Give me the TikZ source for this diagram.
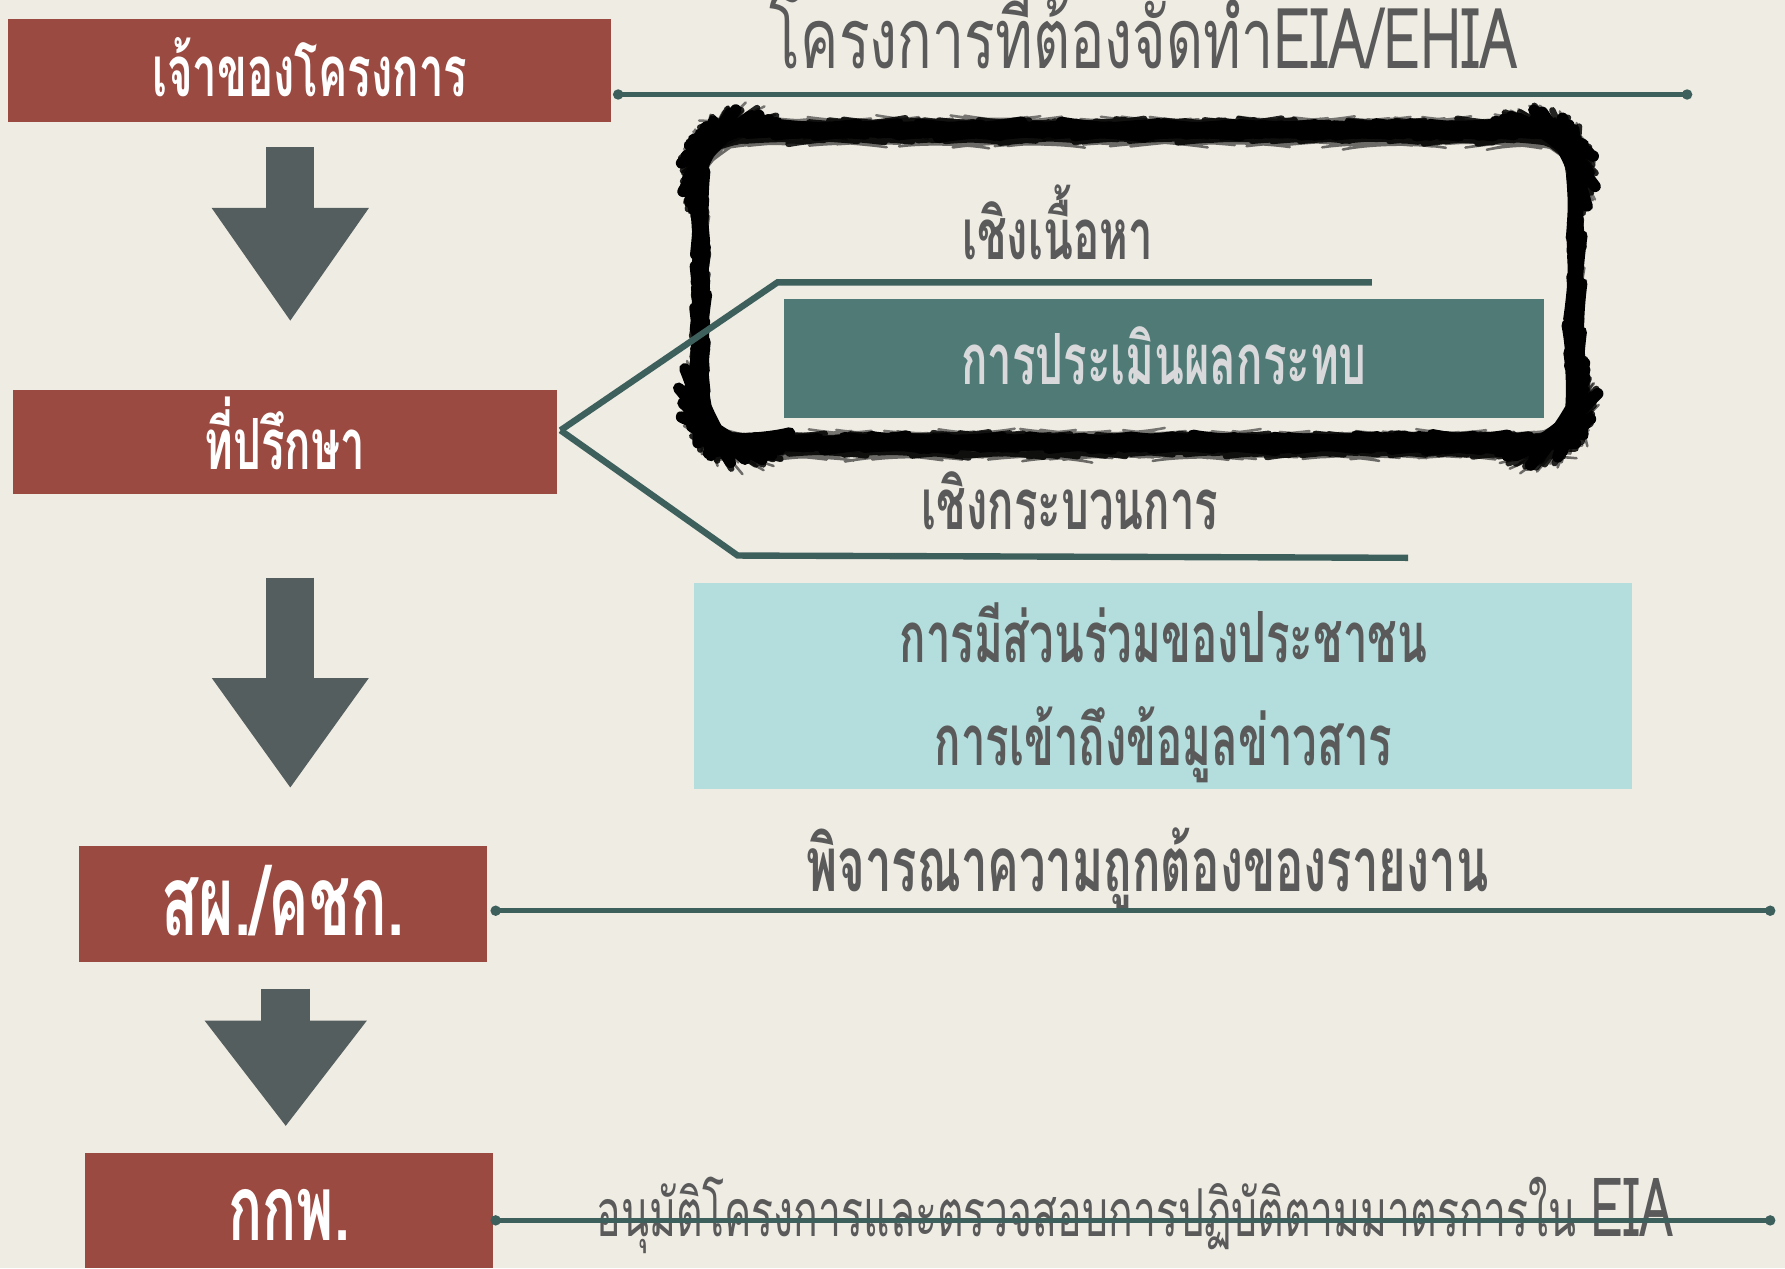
\documentclass[tikz,border=0pt]{standalone}
\usepackage{fontspec}
\usepackage{xcolor}
\usepackage{tikz}
\newfontfamily\thaifont[Script=Thai,FakeStretch=0.62]{Loma}
\newfontfamily\thaiwide[Script=Thai,FakeStretch=0.68]{Loma}
\usetikzlibrary{arrows.meta, decorations.pathmorphing, positioning, calc}
\definecolor{PaperCream}{RGB}{239,236,228}
\definecolor{StageRed}{RGB}{155,74,66}
\definecolor{ArrowGrey}{RGB}{84,94,94}
\definecolor{LineTeal}{RGB}{62,96,92}
\definecolor{BoxTeal}{RGB}{79,122,117}
\definecolor{BoxAqua}{RGB}{180,222,221}
\definecolor{TextGrey}{RGB}{90,90,90}
\definecolor{TextLight}{RGB}{217,217,220}
\tikzset{
  >=latex,  % frecce di default
  % riquadri delle fasi
  stage/.style={rectangle,fill=StageRed,text=white,inner sep=0pt,text depth=0pt,
    font=\thaifont\bfseries\fontsize{31}{31}\selectfont},
  topic box/.style={rectangle,fill=BoxTeal,text=TextLight,inner sep=0pt,text depth=0pt,
    font=\thaifont\bfseries\fontsize{31}{31}\selectfont},
  public box/.style={rectangle,fill=BoxAqua,text=TextGrey,inner sep=0pt,align=center,
    font=\thaifont\bfseries\fontsize{31}{45}\selectfont},
  % testi liberi
  caption/.style={TextGrey,anchor=base,inner sep=0pt,text depth=0pt,
    font=\thaifont\bfseries\fontsize{31}{31}\selectfont},
  heading/.style={TextGrey,anchor=base,inner sep=0pt,text depth=0pt,
    font=\thaiwide\fontsize{37}{37}\selectfont},
  % linee
  rule line/.style={LineTeal,line width=2.4pt,line cap=round},
  rule dot/.style={fill=LineTeal},
  branch/.style={LineTeal,line width=2.8pt},
  big arrow/.style={ArrowGrey,line width=21pt},
  brush/.style={draw=black,rounded corners=20pt,line join=round,line cap=round,decorate,
    decoration={random steps,segment length=3pt,amplitude=0.3pt}}
}

\begin{document}
\begin{tikzpicture}[x=0.5pt,y=-0.5pt]
  \fill[PaperCream] (0,0) rectangle (1568,1114);
  \useasboundingbox (0,0) rectangle (1568,1114);
  \pgfmathsetseed{7}

  % riquadro a pennello
  \foreach \w/\dx/\dy/\o in {5/0/0/1, 2.8/0/6/0.85, 2.8/0/-3/0.85, 1.1/1/10/0.55, 1.1/-1/-6/0.5, 1/2/3/0.5}
    \draw[brush,line width=\w pt,opacity=\o,xshift=\dx*0.5pt,yshift=-\dy*0.5pt]
      (615,114) rectangle (1384,389);

  % fasi
  \node[stage,minimum width=265pt,minimum height=45pt,text height=23pt] (owner) at (272,62) {เจ้าของโครงการ};
  \node[stage,minimum width=239pt,minimum height=45.5pt,text height=23.5pt] (consult) at (250,388.5) {ที่ปรึกษา};
  \node[stage,minimum width=179.5pt,minimum height=51pt,text height=28pt,
    font=\thaifont\bfseries\fontsize{43}{43}\selectfont] (onep) at (248.5,794) {สผ./คชก.};
  \node[stage,minimum width=179pt,minimum height=50.5pt,text height=26pt,
    font=\thaifont\bfseries\fontsize{40}{40}\selectfont] (board) at (254,1063.5) {กกพ.};

  \node[topic box,minimum width=333.5pt,minimum height=52pt,text height=23pt] (impact) at (1022.5,315) {การประเมินผลกระทบ};
  \node[public box,minimum width=412pt,minimum height=90.5pt,text height=70pt,text depth=0.5pt] (public) at (1022,602.5)
    {การมีส่วนร่วมของประชาชน\\การเข้าถึงข้อมูลข่าวสาร};

  % testi
  \node[heading] (title) at (1005,60) {โครงการที่ต้องจัดทำEIA/EHIA};
  \node[caption] (content) at (929,228) {เชิงเนื้อหา};
  \node[caption] (process) at (940,465) {เชิงกระบวนการ};
  \node[caption,font=\thaifont\bfseries\fontsize{33.5}{33.5}\selectfont] (review) at (1008,783) {พิจารณาความถูกต้องของรายงาน};
  \node[caption,font=\thaifont\fontsize{29}{29}\selectfont] (approve) at (997,1086)
    {อนุมัติโครงการและตรวจสอบการปฏิบัติตามมาตรการใน {\fontsize{36}{36}\selectfont EIA}};

  % linee orizzontali
  \coordinate (titleL) at (543,83);
  \coordinate (titleR) at (1482,83);
  \coordinate (reviewR) at (1555,800);
  \coordinate (approveR) at (1555,1072);
  \draw[rule line] (titleL) -- (titleR);
  \draw[rule line] (onep.east) ++(7,6) coordinate (reviewL) -- (reviewR);
  \draw[rule line] (board.east) ++(2,8.5) coordinate (approveL) -- (approveR);
  \foreach \p in {titleL,titleR,reviewL,reviewR,approveL,approveR}
    \fill[rule dot] (\p) circle (2.3pt);

  % rami dal consulente
  \coordinate (contentR) at (1205,248);
  \coordinate (processR) at (1237,490);
  \draw[branch] (consult.east) ++(3,-10.5) coordinate (fork) -- (683,248) -- (contentR);
  \draw[branch] (fork) -- (648,488) -- (processR);

  % frecce
  \coordinate (stemA) at (255,0);
  \coordinate (stemB) at (251,0);
  \draw[big arrow,-{Triangle[length=50pt,width=65.5pt]},shorten <=11pt,shorten >=30pt]
    (owner.south -| stemA) -- (consult.north -| stemA);
  \draw[big arrow,-{Triangle[length=48.5pt,width=65.5pt]},shorten <=36.5pt,shorten >=25pt]
    (consult.south -| stemA) -- (onep.north -| stemA);
  \draw[big arrow,line width=21.5pt,-{Triangle[length=46.5pt,width=68pt]},shorten <=11.5pt,shorten >=11.5pt]
    (onep.south -| stemB) -- (board.north -| stemB);
\end{tikzpicture}
\end{document}
